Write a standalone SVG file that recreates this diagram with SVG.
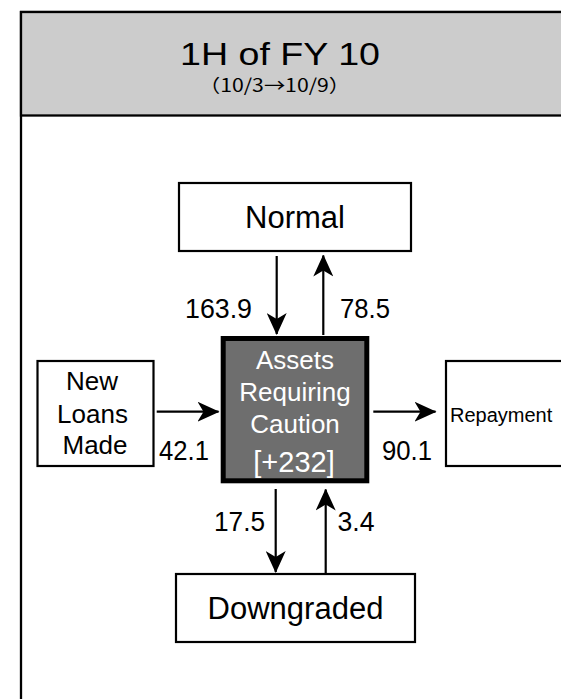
<svg xmlns="http://www.w3.org/2000/svg" width="561" height="699" viewBox="0 0 561 699">
<defs>
<style>
.box{fill:#ffffff;stroke:#000000;stroke-width:2.2}
.t{font-family:"Liberation Sans",Arial,sans-serif;fill:#000000}
.n{font-family:"Liberation Sans",Arial,sans-serif;fill:#000000;font-size:28px}
.w{font-family:"Liberation Sans",Arial,sans-serif;fill:#ffffff}
.ln{stroke:#000000;stroke-width:2.2;fill:none}
</style>
<marker id="ah" viewBox="0 0 22 20" refX="21" refY="10" markerWidth="22" markerHeight="20" markerUnits="userSpaceOnUse" orient="auto">
<path d="M0,0 L22,10 L0,20 L6,10 Z" fill="#000000"/>
</marker>
</defs>
<rect width="561" height="699" fill="#ffffff"/>
<g id="frame">
<rect x="21" y="12" width="560" height="720" fill="#ffffff" stroke="#000000" stroke-width="2.3"/>
<rect x="21" y="12" width="560" height="103.5" fill="#cccccc" stroke="#000000" stroke-width="2.3"/>
<text class="t" x="280" y="65" font-size="31" text-anchor="middle" textLength="200" lengthAdjust="spacingAndGlyphs">1H of FY 10</text>
<text x="274.5" y="92" font-size="18" text-anchor="middle" textLength="151" lengthAdjust="spacingAndGlyphs" font-family="'Noto Sans CJK JP','Liberation Sans',sans-serif">（10/3→10/9）</text>
</g>
<g id="connectors">
<line class="ln" x1="276.7" y1="256" x2="276.7" y2="334" marker-end="url(#ah)"/>
<line class="ln" x1="323.3" y1="335" x2="323.3" y2="255.5" marker-end="url(#ah)"/>
<line class="ln" x1="156.7" y1="411.7" x2="218.5" y2="411.7" marker-end="url(#ah)"/>
<line class="ln" x1="373.3" y1="411.7" x2="435.5" y2="411.7" marker-end="url(#ah)"/>
<line class="ln" x1="275.7" y1="489" x2="275.7" y2="572" marker-end="url(#ah)"/>
<line class="ln" x1="325.7" y1="574" x2="325.7" y2="489.5" marker-end="url(#ah)"/>
<text class="n" x="185" y="318" textLength="67" lengthAdjust="spacingAndGlyphs">163.9</text>
<text class="n" x="340" y="318" textLength="50" lengthAdjust="spacingAndGlyphs">78.5</text>
<text class="n" x="159" y="459.5" textLength="50" lengthAdjust="spacingAndGlyphs">42.1</text>
<text class="n" x="382" y="459.5" textLength="50" lengthAdjust="spacingAndGlyphs">90.1</text>
<text class="n" x="214" y="531" textLength="51" lengthAdjust="spacingAndGlyphs">17.5</text>
<text class="n" x="337.5" y="531" textLength="37" lengthAdjust="spacingAndGlyphs">3.4</text>
</g>
<g id="normal">
<rect class="box" x="179" y="183" width="232" height="68"/>
<text class="t" x="295" y="228" font-size="31" text-anchor="middle">Normal</text>
</g>
<g id="caution">
<rect x="223.2" y="338.5" width="143.6" height="142.3" fill="#6e6e6e" stroke="#000000" stroke-width="5"/>
<text class="w" x="295" y="368.5" font-size="26" text-anchor="middle">Assets</text>
<text class="w" x="295" y="400.5" font-size="26" text-anchor="middle">Requiring</text>
<text class="w" x="295" y="433" font-size="26" text-anchor="middle">Caution</text>
<text class="w" x="294" y="471.5" font-size="29" text-anchor="middle">[+232]</text>
</g>
<g id="newloans">
<rect class="box" x="37.5" y="361" width="116" height="105"/>
<text class="t" x="92" y="390" font-size="26" text-anchor="middle">New</text>
<text class="t" x="92.5" y="422.5" font-size="26" text-anchor="middle">Loans</text>
<text class="t" x="95" y="454" font-size="26" text-anchor="middle">Made</text>
</g>
<g id="repayment">
<rect class="box" x="446" y="361" width="130" height="105"/>
<text class="t" x="450" y="421.5" font-size="20">Repayment</text>
</g>
<g id="downgraded">
<rect class="box" x="176" y="574" width="239" height="68"/>
<text class="t" x="295.5" y="618.5" font-size="31" text-anchor="middle">Downgraded</text>
</g>
</svg>
